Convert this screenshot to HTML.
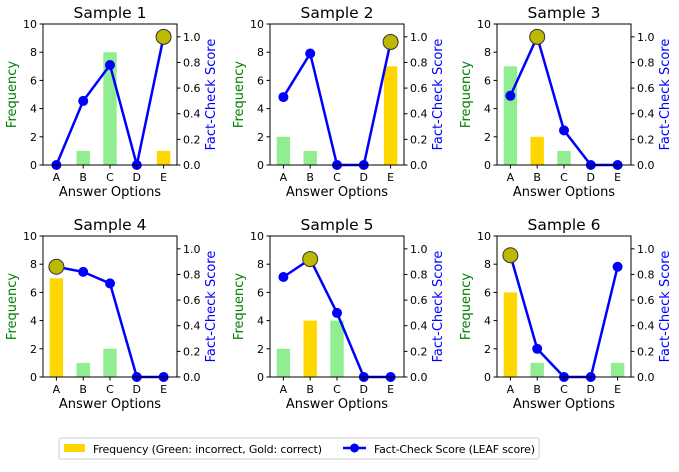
<!DOCTYPE html>
<html><head><meta charset="utf-8"><style>
body{margin:0;background:#fff;font-family:"Liberation Sans","DejaVu Sans",sans-serif}
</style></head><body>
<svg id="c" width="679" height="467" xmlns="http://www.w3.org/2000/svg" font-family="DejaVu Sans, Liberation Sans, sans-serif"></svg>
<script>
const categories=["A","B","C","D","E"];
const titles=["Sample 1","Sample 2","Sample 3","Sample 4","Sample 5","Sample 6"];
const freq1=[0,1,8,0,1], freq2=[2,1,0,0,7], freq3=[7,2,1,0,0], freq4=[7,1,2,0,0], freq5=[2,4,4,0,0], freq6=[6,1,0,0,1];
const score1=[0,0.5,0.78,0,1.0], score2=[0.53,0.87,0,0,0.96], score3=[0.54,1.0,0.27,0,0], score4=[0.86,0.82,0.73,0,0], score5=[0.78,0.92,0.5,0,0], score6=[0.95,0.22,0,0,0.86];
const correct=[4,4,1,0,1,0];
const freqTicks=[0,2,4,6,8,10];
const scoreTicks=[0,0.2,0.4,0.6,0.8,1.0];
const freqs=[freq1,freq2,freq3,freq4,freq5,freq6];
const scores=[score1,score2,score3,score4,score5,score6];
const svg=document.getElementById('c');
const NS="http://www.w3.org/2000/svg";
function mk(t,a,p){const e=document.createElementNS(NS,t);for(const k in a)e.setAttribute(k,a[k]);(p||svg).appendChild(e);return e;}
const colX=[43,270,497], rowY=[24,236], W=134, H=141;
for(let i=0;i<6;i++){
  const x0=colX[i%3], y0=rowY[Math.floor(i/3)];
  const g=mk('g',{});
  
  
  const xc=k=>x0+13.4+k*26.8;
  const yf=v=>y0+H-v/10*H;
  const ys=v=>y0+H-v/1.1*H;
  freqs[i].forEach((v,k)=>{
    if(v<=0)return;
    const r=mk('rect',{x:xc(k)-6.7,y:yf(v),width:13.4,height:yf(0)-yf(v),fill:k===correct[i]?'#ffd700':'#90ee90'},g);
    
    
  });
  const pl=mk('polyline',{points:scores[i].map((v,k)=>xc(k)+','+ys(v)).join(' '),fill:'none',stroke:'#0000ff','stroke-width':2.5},g);
  
  
  scores[i].forEach((v,k)=>{
    const c=mk('circle',k===correct[i]?{cx:xc(k),cy:ys(v),r:7.5,fill:'#bdb800',stroke:'#333','stroke-width':1}:{cx:xc(k),cy:ys(v),r:5,fill:'#0000ff'},g);
    
    
  });
  mk('rect',{x:x0,y:y0,width:W,height:H,fill:'none',stroke:'#000','stroke-width':1},g);
  freqTicks.forEach(v=>{
    mk('line',{x1:x0-3.5,x2:x0,y1:yf(v),y2:yf(v),stroke:'#000'},g);
    const t=mk('text',{x:x0-6,y:yf(v)+4,'font-size':11,'text-anchor':'end'},g);t.textContent=v;
  });
  scoreTicks.forEach(v=>{
    mk('line',{x1:x0+W,x2:x0+W+3.5,y1:ys(v),y2:ys(v),stroke:'#000'},g);
    const t=mk('text',{x:x0+W+6,y:ys(v)+4,'font-size':11},g);t.textContent=v.toFixed(1);
  });
  categories.forEach((c,k)=>{
    mk('line',{x1:xc(k),x2:xc(k),y1:y0+H,y2:y0+H+3.5,stroke:'#000'},g);
    const t=mk('text',{x:xc(k),y:y0+H+16,'font-size':11,'text-anchor':'middle'},g);t.textContent=c;
  });
  const tt=mk('text',{x:x0+W/2,y:y0-6,'font-size':15.5,'text-anchor':'middle'},g);tt.textContent=titles[i];
  
  
  const xl=mk('text',{x:x0+W/2,y:y0+H+31,'font-size':13,'text-anchor':'middle'},g);xl.textContent='Answer Options';
  
  
  const yl=mk('text',{x:0,y:0,'font-size':13,'text-anchor':'middle',fill:'green',transform:`translate(${x0-27},${y0+H/2}) rotate(-90)`},g);yl.textContent='Frequency';
  
  
  const yr=mk('text',{x:0,y:0,'font-size':13,'text-anchor':'middle',fill:'#0000ff',transform:`translate(${x0+W+38},${y0+H/2}) rotate(-90)`},g);yr.textContent='Fact-Check Score';
  
  
}
const lg=mk('g',{});


mk('rect',{x:59,y:438,width:480,height:21,rx:2,fill:'#fff',stroke:'#ccc'},lg);
mk('rect',{x:64,y:444,width:21,height:8,fill:'#ffd700'},lg);
let t=mk('text',{x:93,y:453,'font-size':11,textLength:229},lg);t.textContent='Frequency (Green: incorrect, Gold: correct)';


mk('line',{x1:343,x2:366,y1:448,y2:448,stroke:'#0000ff','stroke-width':2.5},lg);
mk('circle',{cx:354.5,cy:448,r:4.5,fill:'#0000ff'},lg);
t=mk('text',{x:374,y:453,'font-size':11,textLength:161},lg);t.textContent='Fact-Check Score (LEAF score)';


</script>
</body></html>
